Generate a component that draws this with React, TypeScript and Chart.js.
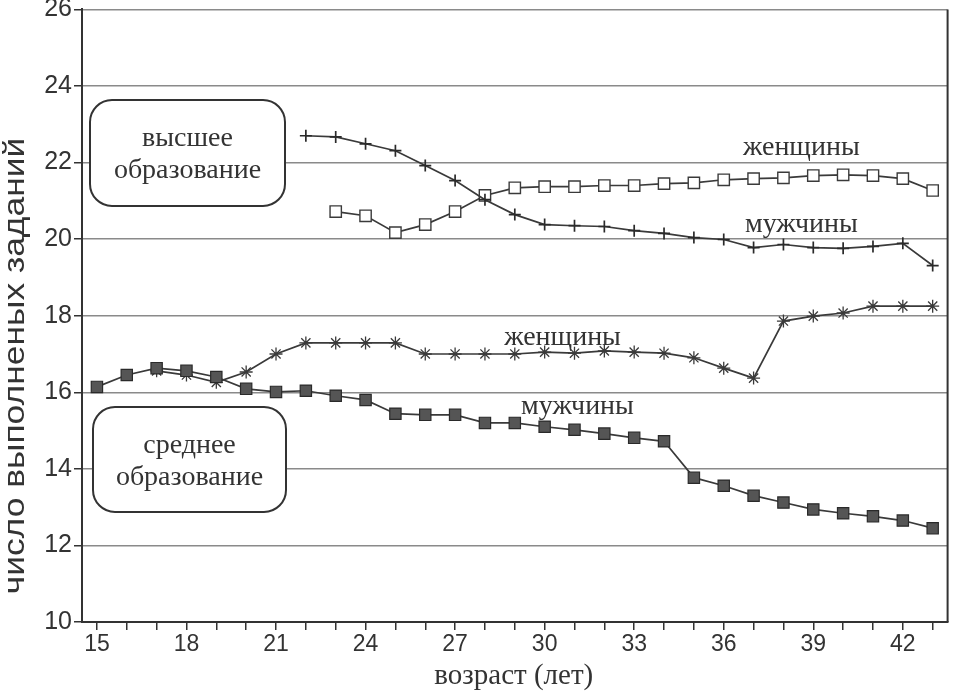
import { useEffect, useRef } from 'react';
import { Chart, registerables } from 'chart.js';

Chart.register(...registerables);

// ---- data ----
const higherMenAges = [22, 23, 24, 25, 26, 27, 28, 29, 30, 31, 32, 33, 34, 35, 36, 37, 38, 39, 40, 41, 42, 43];
const higherMen = [22.70, 22.67, 22.49, 22.31, 21.92, 21.53, 21.03, 20.64, 20.38, 20.35, 20.33, 20.22, 20.15, 20.04, 19.99, 19.78, 19.86, 19.78, 19.76, 19.81, 19.89, 19.31];

const higherWomenAges = [23, 24, 25, 26, 27, 28, 29, 30, 31, 32, 33, 34, 35, 36, 37, 38, 39, 40, 41, 42, 43];
const higherWomen = [20.72, 20.61, 20.17, 20.38, 20.72, 21.14, 21.34, 21.37, 21.37, 21.40, 21.40, 21.45, 21.47, 21.55, 21.58, 21.60, 21.66, 21.68, 21.66, 21.58, 21.27];

const secondaryMenAges = [15, 16, 17, 18, 19, 20, 21, 22, 23, 24, 25, 26, 27, 28, 29, 30, 31, 32, 33, 34, 35, 36, 37, 38, 39, 40, 41, 42, 43];
const secondaryMen = [16.14, 16.45, 16.63, 16.56, 16.40, 16.09, 16.01, 16.04, 15.91, 15.80, 15.44, 15.41, 15.41, 15.20, 15.20, 15.10, 15.02, 14.92, 14.81, 14.72, 13.77, 13.56, 13.30, 13.12, 12.94, 12.84, 12.76, 12.65, 12.45];

const secondaryWomenAges = [17, 18, 19, 20, 21, 22, 23, 24, 25, 26, 27, 28, 29, 30, 31, 32, 33, 34, 35, 36, 37, 38, 39, 40, 41, 42, 43];
const secondaryWomen = [16.56, 16.45, 16.26, 16.53, 17.00, 17.29, 17.29, 17.29, 17.29, 17.00, 17.00, 17.00, 17.00, 17.05, 17.02, 17.08, 17.05, 17.02, 16.90, 16.63, 16.37, 17.86, 17.99, 18.07, 18.25, 18.25, 18.25];

// x ticks: a tick mark at every year, a label every third year
const xTickYears = [15, 16, 17, 18, 19, 20, 21, 22, 23, 24, 25, 26, 27, 28, 29, 30, 31, 32, 33, 34, 35, 36, 37, 38, 39, 40, 41, 42, 43];
const xLabelYears = [15, 18, 21, 24, 27, 30, 33, 36, 39, 42];
const xTitle = 'возраст (лет)';
const yTitle = 'число выполненых заданий';

// annotation texts: [text, age, value]
const seriesLabels: [string, number, number][] = [
  ['женщины', 38.6, 22.38],
  ['мужчины', 38.6, 20.38],
  ['женщины', 30.6, 17.42],
  ['мужчины', 31.1, 15.62],
];
const boxLabels: [string, string][] = [
  ['высшее', 'образование'],
  ['среднее', 'образование'],
];

const toPts = (xs: number[], ys: number[]) => xs.map((x, i) => ({ x, y: ys[i] }));

const INK = '#333333';
const SERIF = '"Liberation Serif", "DejaVu Serif", serif';
const SANS = '"Liberation Sans", Arial, sans-serif';

export default function App() {
  const ref = useRef<HTMLCanvasElement | null>(null);

  useEffect(() => {
    if (!ref.current) return;

    const annot = {
      id: 'annot',
      afterDraw(chart: any) {
        const { ctx, chartArea, scales } = chart;
        const xs = scales.x;
        const ys = scales.y;
        ctx.save();
        // right border
        ctx.strokeStyle = INK;
        ctx.lineWidth = 2;
        ctx.beginPath();
        ctx.moveTo(chartArea.right, chartArea.top);
        ctx.lineTo(chartArea.right, chartArea.bottom);
        ctx.stroke();

        // series labels
        ctx.fillStyle = INK;
        ctx.font = `28px ${SERIF}`;
        ctx.textAlign = 'center';
        ctx.textBaseline = 'middle';
        seriesLabels.forEach(([t, a, v]) => {
          ctx.fillText(t, xs.getPixelForValue(a), ys.getPixelForValue(v));
        });

        // boxes
        const boxes = [
          { x: 90, y: 100, w: 195, h: 106 },
          { x: 93, y: 407, w: 193, h: 105 },
        ];
        boxes.forEach((b, i) => {
          ctx.fillStyle = '#ffffff';
          ctx.strokeStyle = INK;
          ctx.lineWidth = 2;
          ctx.beginPath();
          (ctx as any).roundRect(b.x, b.y, b.w, b.h, 22);
          ctx.fill();
          ctx.stroke();
          ctx.fillStyle = INK;
          ctx.font = `28px ${SERIF}`;
          const cx = b.x + b.w / 2;
          ctx.fillText(boxLabels[i][0], cx, b.y + b.h / 2 - 14);
          ctx.fillText(boxLabels[i][1], cx, b.y + b.h / 2 + 18);
        });

        // axis titles
        ctx.font = `29px ${SERIF}`;
        ctx.fillText(xTitle, (chartArea.left + chartArea.right) / 2 - 1, 676);
        ctx.translate(16, 366);
        ctx.rotate(-Math.PI / 2);
        ctx.scale(1.18, 1);
        ctx.font = `30px ${SANS}`;
        ctx.fillText(yTitle, 0, 0);
        ctx.restore();
      },
    };

    const chart = new Chart(ref.current, {
      type: 'line',
      data: {
        datasets: [
          {
            label: 'высшее мужчины',
            data: toPts(higherMenAges, higherMen),
            borderColor: '#3a3a3a',
            borderWidth: 1.7,
            pointStyle: 'cross',
            pointRadius: 6,
            pointBorderWidth: 1.7,
            pointBorderColor: '#2a2a2a',
            backgroundColor: '#2a2a2a',
          },
          {
            label: 'высшее женщины',
            data: toPts(higherWomenAges, higherWomen),
            borderColor: '#3a3a3a',
            borderWidth: 1.7,
            pointStyle: 'rect',
            pointRadius: 8,
            pointBorderWidth: 1.4,
            pointBorderColor: '#3a3a3a',
            pointBackgroundColor: '#ffffff',
          },
          {
            label: 'среднее мужчины',
            data: toPts(secondaryMenAges, secondaryMen),
            borderColor: '#3a3a3a',
            borderWidth: 1.7,
            pointStyle: 'rect',
            pointRadius: 8,
            pointBorderWidth: 1.2,
            pointBorderColor: '#2a2a2a',
            pointBackgroundColor: '#555555',
          },
          {
            label: 'среднее женщины',
            data: toPts(secondaryWomenAges, secondaryWomen),
            borderColor: '#3a3a3a',
            borderWidth: 1.7,
            pointStyle: 'star',
            pointRadius: 6.5,
            pointBorderWidth: 1.3,
            pointBorderColor: '#3a3a3a',
            backgroundColor: '#3a3a3a',
          },
        ],
      },
      options: {
        animation: false,
        responsive: true,
        maintainAspectRatio: false,
        layout: { padding: { left: 0, right: 5, top: 7, bottom: 0 } },
        plugins: { legend: { display: false }, tooltip: { enabled: false } },
        elements: { line: { tension: 0 } },
        scales: {
          x: {
            type: 'linear',
            min: 14.5,
            max: 43.5,
            afterFit: (s: any) => { s.height = 71; },
            afterBuildTicks: (s: any) => { s.ticks = xTickYears.map((v) => ({ value: v })); },
            border: { display: true, color: INK, width: 2 },
            grid: { drawOnChartArea: false, drawTicks: true, tickLength: 8, color: INK, lineWidth: 1.5 },
            ticks: {
              autoSkip: false,
              maxRotation: 0,
              padding: 1,
              color: INK,
              font: { family: SANS, size: 23 },
              callback: (v: any) => (xLabelYears.includes(Number(v)) ? String(v) : ''),
            },
          },
          y: {
            min: 10,
            max: 26,
            afterFit: (s: any) => { s.width = 82; s.paddingTop = 0; s.paddingBottom = 0; },
            border: { display: true, color: INK, width: 2 },
            grid: { color: '#8a8a8a', lineWidth: 1.5, tickLength: 8, tickColor: INK },
            ticks: {
              stepSize: 2,
              padding: 2,
              color: INK,
              font: { family: SANS, size: 25 },
            },
          },
        },
      },
      plugins: [annot],
    } as any);

    return () => chart.destroy();
  }, []);

  return (
    <div style={{ position: 'fixed', left: 0, top: 0, width: 957, height: 693, background: '#fff' }}>
      <canvas ref={ref} />
    </div>
  );
}
